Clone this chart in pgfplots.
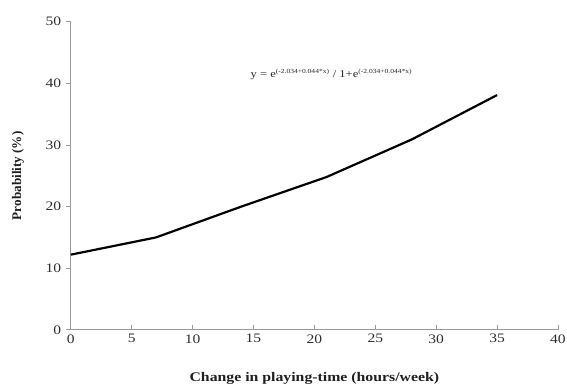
\documentclass[border=0pt]{standalone}
\usepackage{graphicx}
\usepackage{pgfplots}
\pgfplotsset{compat=1.18}
\usepackage{fontspec}
\setmainfont{Liberation Serif}
\newcommand{\hs}[1]{\scalebox{1.2}[1]{#1}}
\begin{document}
\begin{tikzpicture}
\begin{axis}[
  scale only axis,
  width=487bp, height=308bp,
  xmin=0, xmax=40, ymin=0, ymax=50,
  axis lines=left,
  axis line style={draw=gray!80, line width=0.8pt, -},
  xtick={0,5,...,40}, ytick={0,10,...,50},
  x tick style={draw=gray!80, line width=0.8pt},
  y tick style={draw=gray!80, line width=0.8pt},
  xtick align=inside, ytick align=outside,
  major tick length=5bp,
  tick label style={font=\fontsize{13}{15}\selectfont, text=black!82},
  /pgf/number format/assume math mode=true,
  xticklabel={\hs{\pgfmathprintnumber{\tick}}},
  yticklabel={\hs{\pgfmathprintnumber{\tick}}},
  xticklabel style={yshift=-1bp},
  yticklabel style={xshift=-1bp},
  xlabel={\hs{Change in playing-time (hours/week)}},
  ylabel={Probability (\%)},
  label style={font=\fontsize{13.2}{15}\selectfont\bfseries, text=black!88},
  xlabel style={at={(axis description cs:0.5,0)}, anchor=north, yshift=-39bp},
  ylabel style={at={(axis description cs:-0.089,0.5)}, anchor=south},
  clip=false,
]
\addplot[black, line width=2.2pt] coordinates {
  (0,12.2) (7,15.0) (14,20.0) (21,24.8) (28,30.9) (35,38.1)
};
\node[font=\fontsize{10.5}{12}\selectfont, text=black!85] at (axis cs:21.4,41.5)
  {\hs{y = e\textsuperscript{\fontsize{6.3}{7}\selectfont(-2.034+0.044*x)} / 1+e\textsuperscript{\fontsize{6.3}{7}\selectfont(-2.034+0.044*x)}}};
\coordinate (bl) at ([xshift=-70.7bp, yshift=-57bp]rel axis cs:0,0);
\coordinate (tr) at ([xshift=9bp, yshift=21.7bp]rel axis cs:1,1);
\end{axis}
\pgfresetboundingbox
\path (bl) rectangle (tr);
\end{tikzpicture}
\end{document}
